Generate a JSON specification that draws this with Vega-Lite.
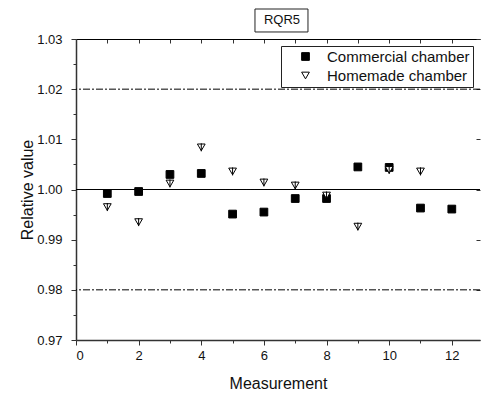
{
  "$schema": "https://vega.github.io/schema/vega-lite/v6.json",
  "width": 404,
  "height": 301,
  "autosize": {"type": "none"},
  "padding": {"left": 76, "top": 39, "right": 1, "bottom": 54},
  "background": "white",
  "config": {
    "view": {"stroke": null},
    "font": "Liberation Sans",
    "axis": {"grid": false, "labelFont": "Liberation Sans", "titleFont": "Liberation Sans", "labelColor": "#111", "titleColor": "#111", "labelFontSize": 13, "titleFontSize": 16, "titleFontWeight": "normal", "domainColor": "#333", "tickColor": "#333"},
    "legend": {"orient": "none", "legendX": 205, "legendY": 7, "strokeColor": "#222", "padding": 3, "rowPadding": 3, "symbolStrokeWidth": 1, "symbolSize": 60, "labelFont": "Liberation Sans", "labelFontSize": 15, "labelColor": "#111"}
  },
  "title": {"text": "RQR5", "fontSize": 13, "fontWeight": "normal", "font": "Liberation Sans", "color": "#111", "anchor": "middle", "offset": -18, "dx": 4},
  "datasets": {
    "pts": [
      {"m": 1, "v": 0.9992, "chamber": "Commercial chamber"},
      {"m": 2, "v": 0.9996, "chamber": "Commercial chamber"},
      {"m": 3, "v": 1.0030, "chamber": "Commercial chamber"},
      {"m": 4, "v": 1.0032, "chamber": "Commercial chamber"},
      {"m": 5, "v": 0.9951, "chamber": "Commercial chamber"},
      {"m": 6, "v": 0.9955, "chamber": "Commercial chamber"},
      {"m": 7, "v": 0.9982, "chamber": "Commercial chamber"},
      {"m": 8, "v": 0.9982, "chamber": "Commercial chamber"},
      {"m": 9, "v": 1.0045, "chamber": "Commercial chamber"},
      {"m": 10, "v": 1.0044, "chamber": "Commercial chamber"},
      {"m": 11, "v": 0.9963, "chamber": "Commercial chamber"},
      {"m": 12, "v": 0.9961, "chamber": "Commercial chamber"},
      {"m": 1, "v": 0.9965, "chamber": "Homemade chamber"},
      {"m": 2, "v": 0.9935, "chamber": "Homemade chamber"},
      {"m": 3, "v": 1.0012, "chamber": "Homemade chamber"},
      {"m": 4, "v": 1.0084, "chamber": "Homemade chamber"},
      {"m": 5, "v": 1.0036, "chamber": "Homemade chamber"},
      {"m": 6, "v": 1.0014, "chamber": "Homemade chamber"},
      {"m": 7, "v": 1.0008, "chamber": "Homemade chamber"},
      {"m": 8, "v": 0.9988, "chamber": "Homemade chamber"},
      {"m": 9, "v": 0.9926, "chamber": "Homemade chamber"},
      {"m": 10, "v": 1.0039, "chamber": "Homemade chamber"},
      {"m": 11, "v": 1.0036, "chamber": "Homemade chamber"}
    ],
    "err": [
      {"m": 1, "lo": 0.9957, "hi": 0.9973},
      {"m": 2, "lo": 0.9927, "hi": 0.9943},
      {"m": 3, "lo": 1.0004, "hi": 1.0020},
      {"m": 4, "lo": 1.0076, "hi": 1.0092},
      {"m": 5, "lo": 1.0028, "hi": 1.0044},
      {"m": 6, "lo": 1.0006, "hi": 1.0022},
      {"m": 7, "lo": 1.0000, "hi": 1.0016},
      {"m": 8, "lo": 0.9980, "hi": 0.9996},
      {"m": 9, "lo": 0.9918, "hi": 0.9934},
      {"m": 10, "lo": 1.0031, "hi": 1.0047},
      {"m": 11, "lo": 1.0028, "hi": 1.0044}
    ],
    "refs": [
      {"r": 1.00, "kind": "nominal"},
      {"r": 1.02, "kind": "limit"},
      {"r": 0.98, "kind": "limit"}
    ]
  },
  "resolve": {"axis": {"x": "independent", "y": "independent"}},
  "layer": [
    {
      "data": {"name": "refs"},
      "mark": {"type": "rule", "color": "black", "strokeWidth": 1},
      "encoding": {
        "y": {"field": "r", "type": "quantitative", "scale": {"domain": [0.97, 1.03], "nice": false, "zero": false},
              "axis": {"orient": "right", "values": [0.97, 0.98, 0.99, 1.0, 1.01, 1.02, 1.03], "labels": false, "domain": false, "tickSize": -4, "title": null}},
        "strokeDash": {"field": "kind", "type": "nominal", "scale": {"domain": ["nominal", "limit"], "range": [[1, 0], [7, 2, 2, 2]]}, "legend": null}
      }
    },
    {
      "data": {"name": "pts"},
      "mark": {"type": "point", "filled": true, "strokeWidth": 1, "opacity": 1, "size": 60},
      "encoding": {
        "x": {"field": "m", "type": "quantitative", "scale": {"domain": [0, 12.9], "nice": false, "zero": false},
              "axis": {"orient": "bottom", "values": [0, 2, 4, 6, 8, 10, 12], "tickSize": 5, "labelPadding": 4, "domainWidth": 1.5, "title": "Measurement", "titlePadding": 13}},
        "y": {"field": "v", "type": "quantitative", "scale": {"domain": [0.97, 1.03], "nice": false, "zero": false},
              "axis": {"orient": "left", "values": [0.97, 0.98, 0.99, 1.0, 1.01, 1.02, 1.03], "format": ".2f", "tickSize": 5, "labelPadding": 9, "domainWidth": 1.5, "title": "Relative value", "titlePadding": 1}},
        "shape": {"field": "chamber", "type": "nominal", "scale": {"domain": ["Commercial chamber", "Homemade chamber"], "range": ["square", "triangle-down"]}, "title": null,
                  "legend": {"symbolOffset": 14, "labelOffset": 14}},
        "fill": {"field": "chamber", "type": "nominal", "scale": {"domain": ["Commercial chamber", "Homemade chamber"], "range": ["black", "white"]}, "title": null},
        "stroke": {"field": "chamber", "type": "nominal", "scale": {"domain": ["Commercial chamber", "Homemade chamber"], "range": ["black", "black"]}, "title": null}
      }
    },
    {
      "data": {"name": "err"},
      "mark": {"type": "rule", "color": "black", "strokeWidth": 1},
      "encoding": {
        "x": {"field": "m", "type": "quantitative", "scale": {"domain": [0, 12.9], "nice": false, "zero": false},
              "axis": {"orient": "bottom", "values": [1, 3, 5, 7, 9, 11], "labels": false, "domain": false, "tickSize": 3, "title": null}},
        "y": {"field": "lo", "type": "quantitative", "scale": {"domain": [0.97, 1.03], "nice": false, "zero": false},
              "axis": {"orient": "left", "values": [0.975, 0.985, 0.995, 1.005, 1.015, 1.025], "labels": false, "domain": false, "tickSize": 3, "title": null}},
        "y2": {"field": "hi"}
      }
    },
    {
      "data": {"values": [{"t": "RQR5"}]},
      "mark": {"type": "rect", "fill": null, "stroke": "#222", "strokeWidth": 1, "clip": false},
      "encoding": {
        "x": {"datum": 5.715, "type": "quantitative", "scale": {"domain": [0, 12.9], "nice": false, "zero": false},
              "axis": {"orient": "top", "values": [0, 1, 2, 3, 4, 5, 6, 7, 8, 9, 10, 11, 12], "labels": false, "domain": true, "domainColor": "black", "domainWidth": 1, "tickSize": -4, "title": null}},
        "x2": {"datum": 7.407},
        "y": {"datum": 1.03598, "type": "quantitative", "scale": {"domain": [0.97, 1.03], "nice": false, "zero": false}, "axis": null},
        "y2": {"datum": 1.0314}
      }
    }
  ]
}
